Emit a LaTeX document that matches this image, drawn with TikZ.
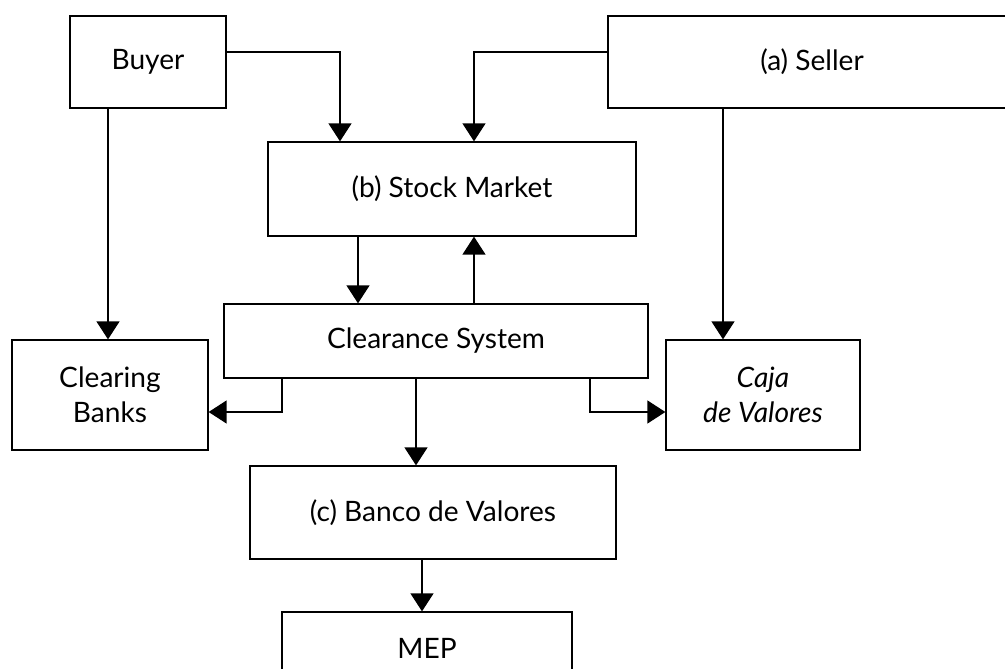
\documentclass[tikz,border=0pt]{standalone}
\usepackage{fontspec}
\setmainfont{Lato}
\usetikzlibrary{positioning,arrows.meta}

\begin{document}
\begin{tikzpicture}[x=0.02cm, y=-0.02cm,
  box/.style={draw, line width=0.75pt, inner sep=0pt, align=center,
    font=\fontsize{16}{20}\selectfont},
  arr/.style={-{Triangle[width=0.46cm,length=0.36cm]}, line width=0.75pt}]
\clip (0,0) rectangle (1005,669);

\node[box, minimum width=3.12cm, minimum height=1.84cm] (buyer) at (148, 62) {Buyer};
\node[box, minimum width=8.16cm, minimum height=1.84cm] (seller) at (812, 62) {(a) Seller};
\node[box, minimum width=7.36cm, minimum height=1.88cm] (market) at (452, 189) {(b) Stock Market};
\node[box, minimum width=8.48cm, minimum height=1.48cm] (clear) at (436, 341) {Clearance System};
\node[box, minimum width=3.92cm, minimum height=2.2cm] (banks) at (110, 395) {Clearing\\Banks};
\node[box, minimum width=3.88cm, minimum height=2.2cm, font=\fontsize{16}{20}\selectfont\itshape] (caja) at (763, 395) {Caja\\de Valores};
\node[box, minimum width=7.32cm, minimum height=1.86cm] (banco) at (433, 512.5) {(c) Banco de Valores};
\node[box, minimum width=5.8cm, minimum height=1.44cm] (mep) at (427, 648) {MEP};

% orders into the market
\draw[arr] (buyer.east |- 0,52) -| (market.north -| 340,0);
\draw[arr] (seller.west |- 0,52) -| (market.north -| 474,0);
\draw[arr] (market.south -| 358,0) -- (clear.north -| 358,0);
\draw[arr] (clear.north -| 474,0) -- (market.south -| 474,0);

% cash and securities
\draw[arr] (buyer.south -| 108,0) -- (banks.north -| 108,0);
\draw[arr] (seller.south -| 723,0) -- (caja.north -| 723,0);
\draw[arr] (clear.south -| 282,0) |- (banks.east |- 0,412);
\draw[arr] (clear.south -| 590,0) |- (caja.west |- 0,412);
\draw[arr] (clear.south -| 416,0) -- (banco.north -| 416,0);
\draw[arr] (banco.south -| 422,0) -- (mep.north -| 422,0);

\end{tikzpicture}
\end{document}
